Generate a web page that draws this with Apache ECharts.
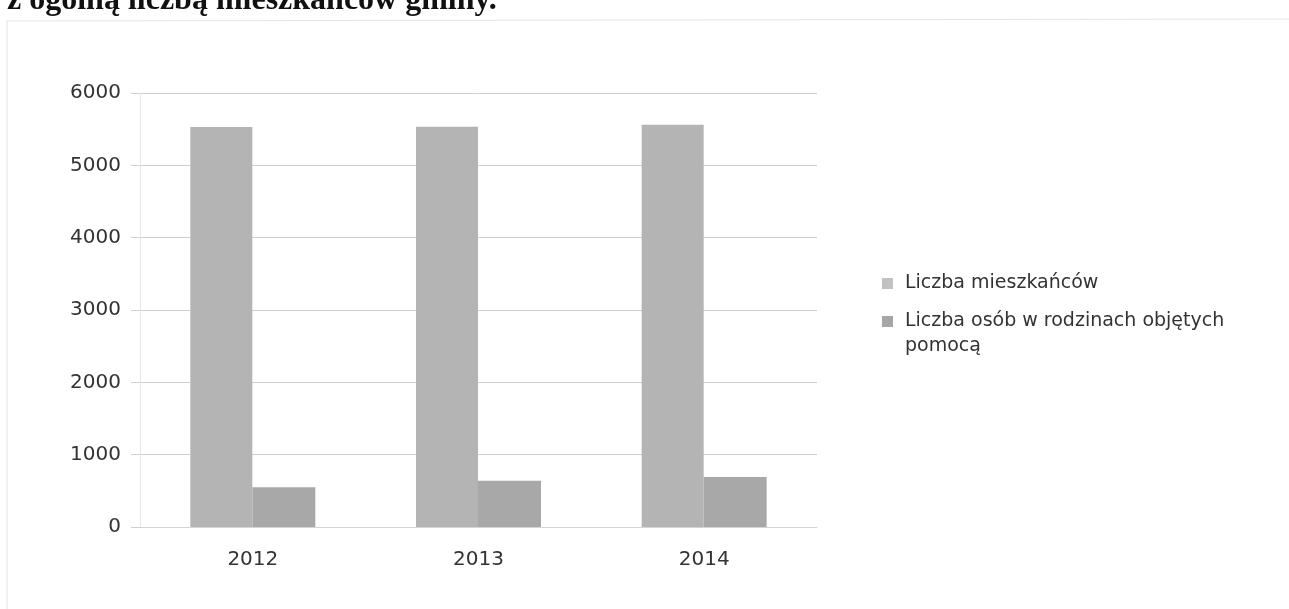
<!DOCTYPE html>
<html>
<head>
<meta charset="utf-8">
<script src="https://cdn.jsdelivr.net/npm/echarts@6/dist/echarts.min.js"></script>
<style>html,body{margin:0;padding:0;background:#fff}#c{width:1289px;height:609px}</style>
</head>
<body>
<div id="c"></div>
<script>
const categories = ['2012', '2013', '2014'];
const seriesNames = ['Liczba mieszkańców', 'Liczba osób w rodzinach objętych\npomocą'];
const residents = [5530, 5535, 5560];
const helped = [550, 640, 690];
const yTicks = [0, 1000, 2000, 3000, 4000, 5000, 6000];

const labelFont = '"DejaVu Sans", sans-serif';
const chart = echarts.init(document.getElementById('c'));
chart.setOption({
  backgroundColor: '#fff',
  animation: false,
  graphic: [
    { type: 'text', x: 7, y: 1, style: { text: 'z ogólną liczbą mieszkańców gminy.', font: 'bold 32px "Liberation Serif", serif', fill: '#111', verticalAlign: 'middle' } },
    { type: 'line', shape: { x1: 7, y1: 21, x2: 1289, y2: 19 }, style: { stroke: '#e4e4e4', lineWidth: 1 } },
    { type: 'line', shape: { x1: 7, y1: 21, x2: 7, y2: 609 }, style: { stroke: '#e4e4e4', lineWidth: 1 } }
  ],
  grid: { left: 140, right: 472, top: 93, bottom: 82, containLabel: false },
  legend: {
    orient: 'vertical', left: 877, top: 266, itemGap: -12,
    itemWidth: 11, itemHeight: 11, icon: 'rect',
    textStyle: { fontFamily: labelFont, fontSize: 19, color: '#333', lineHeight: 25, padding: [0, 0, 0, 7] },
    formatter: name => (name === seriesNames[1] ? ' \n' + name : name),
    data: [
      { name: seriesNames[0], itemStyle: { color: '#c2c2c2' } },
      { name: seriesNames[1], itemStyle: { color: '#a6a6a6' } }
    ]
  },
  xAxis: {
    type: 'category', data: categories,
    axisLine: { lineStyle: { color: '#d4d4d4' } }, axisTick: { show: false },
    axisLabel: { fontFamily: labelFont, fontSize: 20, color: '#333', margin: 23 }
  },
  yAxis: {
    type: 'value', min: yTicks[0], max: yTicks[yTicks.length - 1], interval: 1000,
    axisLine: { show: true, lineStyle: { color: '#e6e6e6' } },
    axisTick: { show: true, length: 9, lineStyle: { color: '#d0d0d0' } },
    splitLine: { lineStyle: { color: '#cfcfcf' } },
    axisLabel: { fontFamily: labelFont, fontSize: 20, color: '#333', margin: 19, formatter: v => String(v) }
  },
  series: [
    { name: seriesNames[0], type: 'bar', data: residents, barWidth: 62, barGap: '0%', itemStyle: { color: '#b4b4b4' } },
    { name: seriesNames[1], type: 'bar', data: helped, barWidth: 63, itemStyle: { color: '#a8a8a8' } }
  ]
});
</script>
</body>
</html>
